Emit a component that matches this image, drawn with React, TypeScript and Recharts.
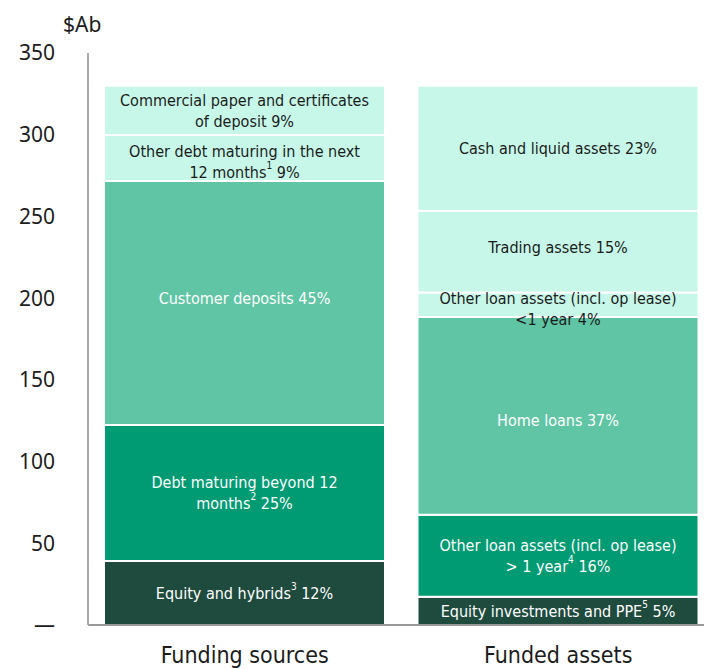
import { BarChart, Bar, XAxis, YAxis, LabelList } from 'recharts'

const categories = ['Funding sources', 'Funded assets']

// funding sources, bottom to top ($Ab)
const fundingValues = [39.2, 83.2, 149.3, 28.2, 30.0]
const fundingLabels = [
  ['Equity and hybrids^3^ 12%'],
  ['Debt maturing beyond 12', 'months^2^ 25%'],
  ['Customer deposits 45%'],
  ['Other debt maturing in the next', '12 months^1^ 9%'],
  ['Commercial paper and certificates', 'of deposit 9%'],
]
const fundingColors = ['#1f4a3e', '#009a73', '#5fc5a5', '#c6f7e8', '#c6f7e8']
const fundingShift = [0, 0, -5, 4, 0]

// funded assets, bottom to top ($Ab)
const fundedValues = [17.3, 50.2, 121.0, 14.9, 50.1, 76.4]
const fundedLabels = [
  ['Equity investments and PPE^5^  5%'],
  ['Other loan assets (incl. op lease)', '> 1 year^4^ 16%'],
  ['Home loans 37%'],
  ['Other loan assets (incl. op lease)', '<1 year 4%'],
  ['Trading assets 15%'],
  ['Cash and liquid assets 23%'],
]
const fundedColors = ['#1f4a3e', '#009a73', '#5fc5a5', '#c6f7e8', '#c6f7e8', '#c6f7e8']
const fundedShift = [0, 0, 4, 4, -5, 0]

const yTicks = [0, 50, 100, 150, 200, 250, 300, 350]

const labelFont = "'Liberation Sans Narrow', 'DejaVu Sans Condensed', sans-serif"
const tickFont = "'Noto Sans', sans-serif"

const data = categories.map((name, ci) => {
  const row: Record<string, string | number | null> = { name }
  fundingValues.forEach((v, i) => { row[`f${i}`] = ci === 0 ? v : null })
  fundedValues.forEach((v, i) => { row[`a${i}`] = ci === 1 ? v : null })
  return row
})

function textColor(fill: string) {
  return fill === '#c6f7e8' ? '#1c1c1c' : '#ffffff'
}

function renderLine(line: string) {
  const parts = line.split('^')
  return parts.map((p, i) =>
    i % 2 === 1
      ? <tspan key={i} fontSize={10} dy={-7}>{p}</tspan>
      : <tspan key={i} dy={i > 0 ? 7 : 0}>{p}</tspan>
  )
}

function makeLabel(lines: string[], fill: string, shift: number) {
  return (props: any) => {
    const { x, y, width, height, value } = props
    if (value == null || !height) return null
    const cx = Number(x) + Number(width) / 2
    const cy = Number(y) + Number(height) / 2 + shift
    const lh = 21
    const y0 = cy - ((lines.length - 1) * lh) / 2
    return (
      <g>
        {lines.map((l, i) => (
          <text
            key={i}
            x={cx}
            y={y0 + i * lh}
            textAnchor="middle"
            dominantBaseline="central"
            fill={textColor(fill)}
            fontSize={16}
            fontFamily={labelFont}
          >
            {renderLine(l)}
          </text>
        ))}
      </g>
    )
  }
}

export default function App() {
  return (
    <div style={{ position: 'fixed', left: 0, top: 0, width: 704, height: 669, overflow: 'hidden', background: '#fff' }}>
      <BarChart
        width={715}
        height={669}
        data={data}
        margin={{ top: 53, right: 0, left: 0, bottom: 0 }}
        barSize={281}
      >
        <XAxis
          dataKey="name"
          axisLine={{ stroke: '#999', strokeWidth: 2 }}
          tickLine={false}
          tickMargin={16}
          height={44}
          tick={{ fill: '#1c1c1c', fontSize: 23, fontFamily: labelFont }}
        />
        <YAxis
          width={88}
          domain={[0, 350]}
          ticks={yTicks}
          axisLine={{ stroke: '#aaa', strokeWidth: 2 }}
          tickLine={false}
          tickMargin={27}
          tick={{ fill: '#1c1c1c', fontSize: 21, fontFamily: tickFont }}
          tickFormatter={(v: number) => (v === 0 ? '—' : String(v))}
          label={{
            content: () => (
              <text x={63} y={32} fill="#1c1c1c" fontSize={21} fontFamily={tickFont}>$Ab</text>
            ),
          }}
        />
        {fundingValues.map((_, i) => (
          <Bar
            key={`f${i}`}
            dataKey={`f${i}`}
            stackId="s"
            fill={fundingColors[i]}
            stroke="#fff"
            strokeWidth={2}
            isAnimationActive={false}
          >
            <LabelList dataKey={`f${i}`} content={makeLabel(fundingLabels[i], fundingColors[i], fundingShift[i])} />
          </Bar>
        ))}
        {fundedValues.map((_, i) => (
          <Bar
            key={`a${i}`}
            dataKey={`a${i}`}
            stackId="s"
            fill={fundedColors[i]}
            stroke="#fff"
            strokeWidth={2}
            isAnimationActive={false}
          >
            <LabelList dataKey={`a${i}`} content={makeLabel(fundedLabels[i], fundedColors[i], fundedShift[i])} />
          </Bar>
        ))}
      </BarChart>
    </div>
  )
}
